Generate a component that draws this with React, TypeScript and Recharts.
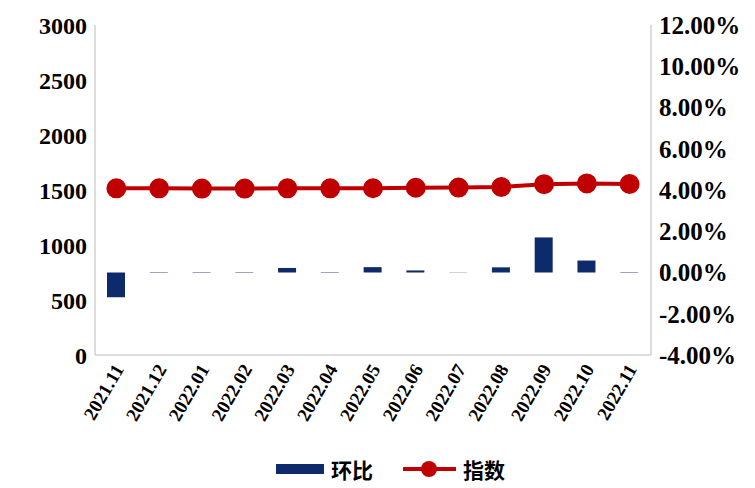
import { ComposedChart, Bar, Line, XAxis, YAxis, Legend } from "recharts";

const months = ["2021.11", "2021.12", "2022.01", "2022.02", "2022.03", "2022.04", "2022.05", "2022.06", "2022.07", "2022.08", "2022.09", "2022.10", "2022.11"];
const momPct = [-1.2, 0.02, 0.02, 0.02, 0.22, 0.02, 0.26, 0.1, 0.01, 0.25, 1.7, 0.58, 0.02];
const indexValues = [1515, 1515, 1513, 1513, 1515, 1515, 1516, 1520, 1522, 1527, 1553, 1560, 1555];
const leftTicks = [0, 500, 1000, 1500, 2000, 2500, 3000];
const rightTicks = [-4, -2, 0, 2, 4, 6, 8, 10, 12];

const data = months.map((m, i) => ({ month: m, 环比: momPct[i], 指数: indexValues[i] }));

const font = "'Liberation Serif', 'Times New Roman', serif";
const tickStyle = { fontFamily: font, fontWeight: 700, fontSize: 24, fill: "#000" };

function XTick({ x, y, payload }: any) {
	return (
		<text x={x + 8} y={y + 6} textAnchor="end" transform={`rotate(-60 ${x + 8} ${y + 6})`} style={{ ...tickStyle, fontSize: 19 }}>
			{payload.value}
		</text>
	);
}

function LegendBox() {
	const t = { fontFamily: "'Noto Sans CJK SC'", fontSize: 21, fontWeight: 700, fill: "#000" };
	return (
		<svg width={755} height={40}>
			<rect x={268} y={16} width={48} height={10} fill="#0d2a6b" />
			<text x={323} y={30} style={t}>环比</text>
			<line x1={395} y1={21} x2={448} y2={21} stroke="#c00000" strokeWidth={4} />
			<circle cx={421} cy={21} r={8} fill="#c00000" />
			<text x={455} y={30} style={t}>指数</text>
		</svg>
	);
}

export default function App() {
	return (
		<ComposedChart width={755} height={480} data={data} margin={{ top: 17, right: 0, bottom: 0, left: 0 }} style={{ fontFamily: font }}>
			<XAxis dataKey="month" tick={<XTick />} interval={0} height={93} stroke="#bbb" tickLine={false} />
			<YAxis yAxisId="l" domain={[0, 3000]} ticks={leftTicks} tick={tickStyle} width={87} stroke="#bbb" tickLine={false} />
			<YAxis yAxisId="r" orientation="right" domain={[-4, 12]} ticks={rightTicks} tick={{ ...tickStyle, fontSize: 25 }} tickFormatter={(v) => `${v.toFixed(2)}%`} width={112} stroke="#bbb" tickLine={false} />
			<Bar yAxisId="r" dataKey="环比" fill="#0d2a6b" barSize={18} isAnimationActive={false} />
			<Line yAxisId="l" dataKey="指数" stroke="#c00000" strokeWidth={4} dot={{ r: 8, fill: "#c00000", stroke: "#c00000" }} isAnimationActive={false} />
			<Legend verticalAlign="bottom" height={40} content={<LegendBox />} wrapperStyle={{ left: 0, width: 755 }} />
		</ComposedChart>
	);
}
